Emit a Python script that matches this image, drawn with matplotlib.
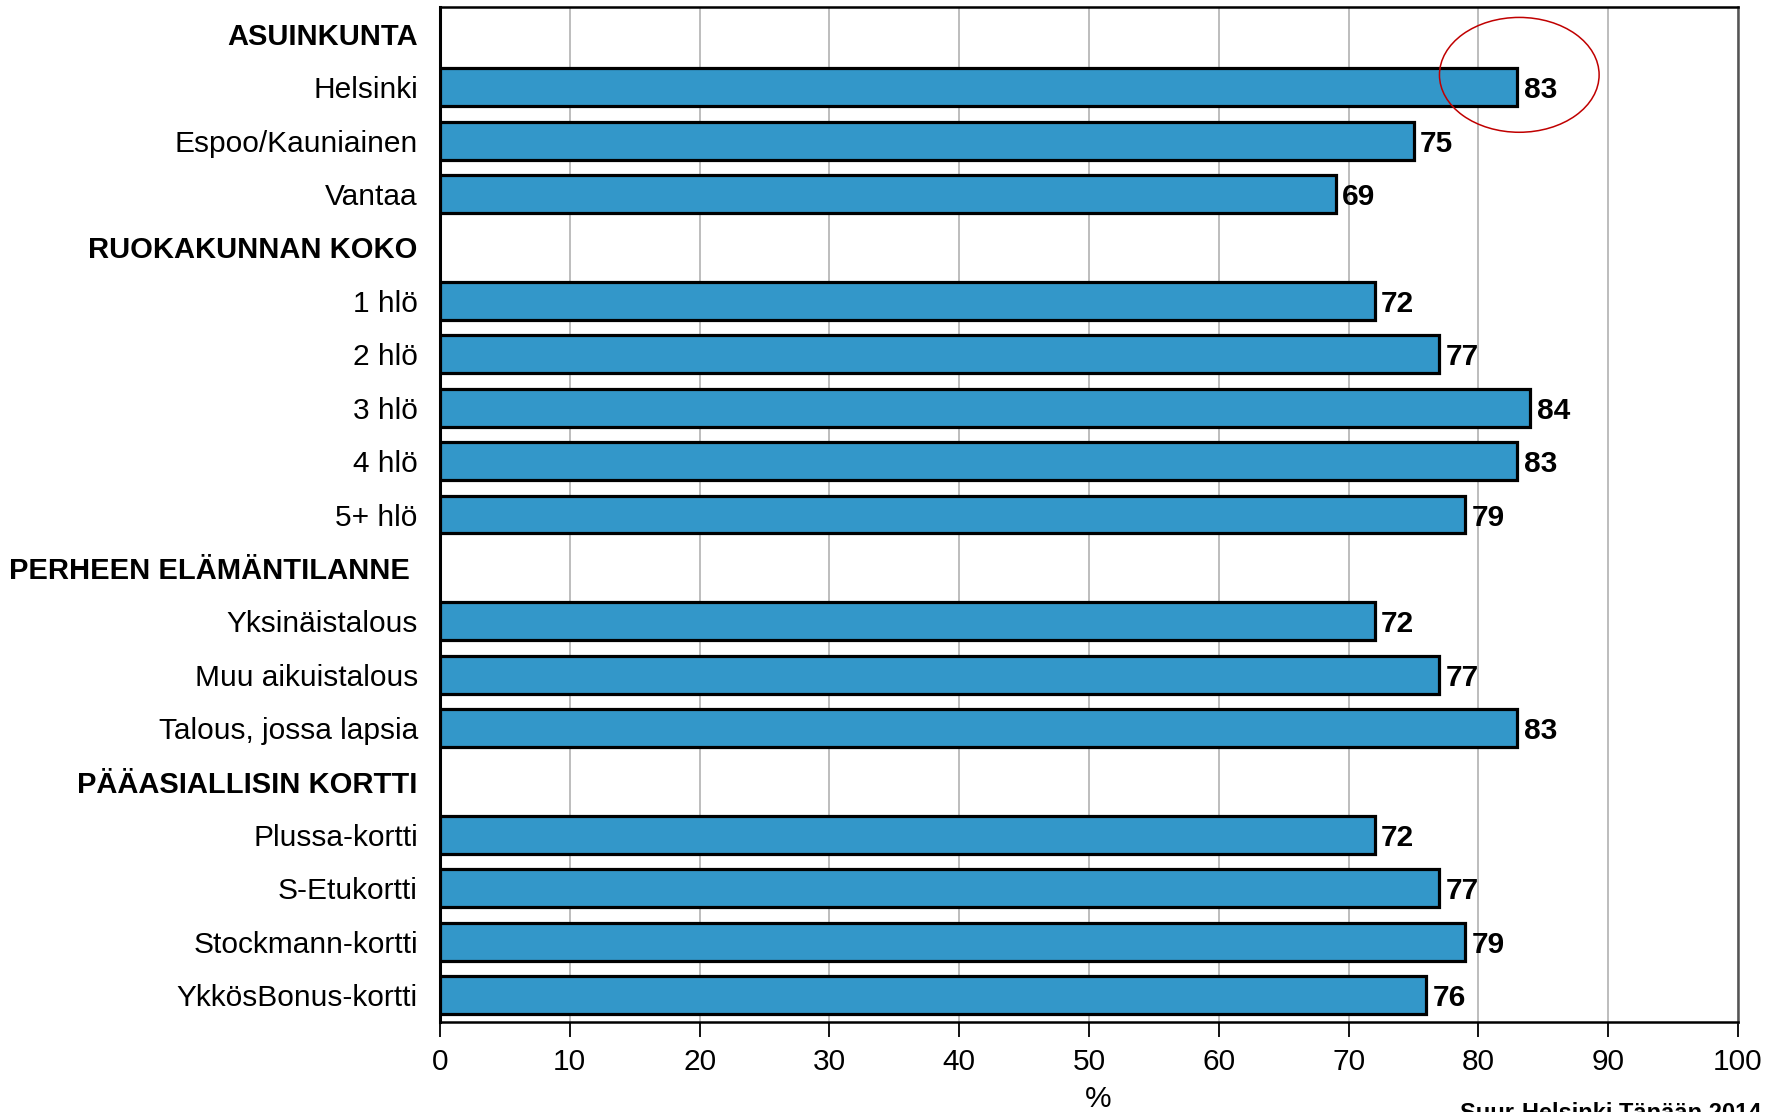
import matplotlib
matplotlib.use("Agg")
import matplotlib.pyplot as plt
from matplotlib.patches import Ellipse

plt.rcParams["font.family"] = ["Liberation Sans", "DejaVu Sans"]

# Group headings and their rows
group_titles = ["ASUINKUNTA", "RUOKAKUNNAN KOKO", "PERHEEN ELÄMÄNTILANNE ", "PÄÄASIALLISIN KORTTI"]

kunta_labels = ["Helsinki", "Espoo/Kauniainen", "Vantaa"]
kunta_values = [83, 75, 69]

koko_labels = ["1 hlö", "2 hlö", "3 hlö", "4 hlö", "5+ hlö"]
koko_values = [72, 77, 84, 83, 79]

tilanne_labels = ["Yksinäistalous", "Muu aikuistalous", "Talous, jossa lapsia"]
tilanne_values = [72, 77, 83]

kortti_labels = ["Plussa-kortti", "S-Etukortti", "Stockmann-kortti", "YkkösBonus-kortti"]
kortti_values = [72, 77, 79, 76]

x_ticks = [0, 10, 20, 30, 40, 50, 60, 70, 80, 90, 100]

groups = [
    (group_titles[0], kunta_labels, kunta_values),
    (group_titles[1], koko_labels, koko_values),
    (group_titles[2], tilanne_labels, tilanne_values),
    (group_titles[3], kortti_labels, kortti_values),
]

# Flatten into rows: header rows carry no value
row_labels, row_values, row_is_header = [], [], []
for title, labels, values in groups:
    row_labels.append(title)
    row_values.append(None)
    row_is_header.append(True)
    for lab, val in zip(labels, values):
        row_labels.append(lab)
        row_values.append(val)
        row_is_header.append(False)

W, H, DPI = 1773, 1112, 100
fig = plt.figure(figsize=(W / DPI, H / DPI), dpi=DPI)
ax = fig.add_axes([440 / W, 1 - 1022 / H, (1738 - 440) / W, (1022 - 7) / H])

bar_color = "#3397C9"
fs = 21.5

for i, (val, hdr) in enumerate(zip(row_values, row_is_header)):
    if hdr:
        continue
    ax.barh(i, val, height=0.71, color=bar_color, edgecolor="black",
            linewidth=2.3, zorder=3)
    ax.annotate(f"{val}", xy=(val, i), xytext=(4.5, 0), textcoords="offset points",
                ha="left", va="center_baseline", fontsize=fs, fontweight="bold",
                color="black", zorder=4)

n = len(row_labels)
ax.set_ylim(n - 0.5, -0.5)
ax.set_xlim(0, 100)

ax.set_yticks(range(n))
ax.set_yticklabels(row_labels, fontsize=fs)
for tl, hdr in zip(ax.get_yticklabels(), row_is_header):
    if hdr:
        tl.set_fontweight("bold")
        tl.set_fontsize(21)
ax.tick_params(axis="y", length=0, pad=16)

ax.set_xticks(x_ticks)
ax.set_xticklabels([str(t) for t in x_ticks], fontsize=fs)
ax.tick_params(axis="x", direction="out", length=11, width=1.3, pad=8)

ax.set_xlabel("%", fontsize=fs)
ax.xaxis.set_label_coords((1098 - 440) / (1738 - 440), -(1085 - 1022) / (1022 - 7))

ax.grid(axis="x", color="#BDBDBD", linewidth=1.4, zorder=0)
ax.grid(axis="y", visible=False)
ax.set_axisbelow(True)

for side in ["left", "top", "bottom"]:
    ax.spines[side].set_color("black")
    ax.spines[side].set_linewidth(1.8)
ax.spines["left"].set_linewidth(2.2)
ax.spines["right"].set_color("#555555")
ax.spines["right"].set_linewidth(1.8)

# Highlight around the Helsinki result
ell = Ellipse((83.15, 0.77), width=12.3, height=2.15, fill=False,
              edgecolor="#C00000", linewidth=1.1, zorder=5, clip_on=False)
ax.add_patch(ell)

fig.text(1460 / W, 1 - 1120 / H, "Suur-Helsinki Tänään 2014", fontsize=17,
         fontweight="bold", ha="left", va="baseline")

fig.savefig("out.png", dpi=DPI)
